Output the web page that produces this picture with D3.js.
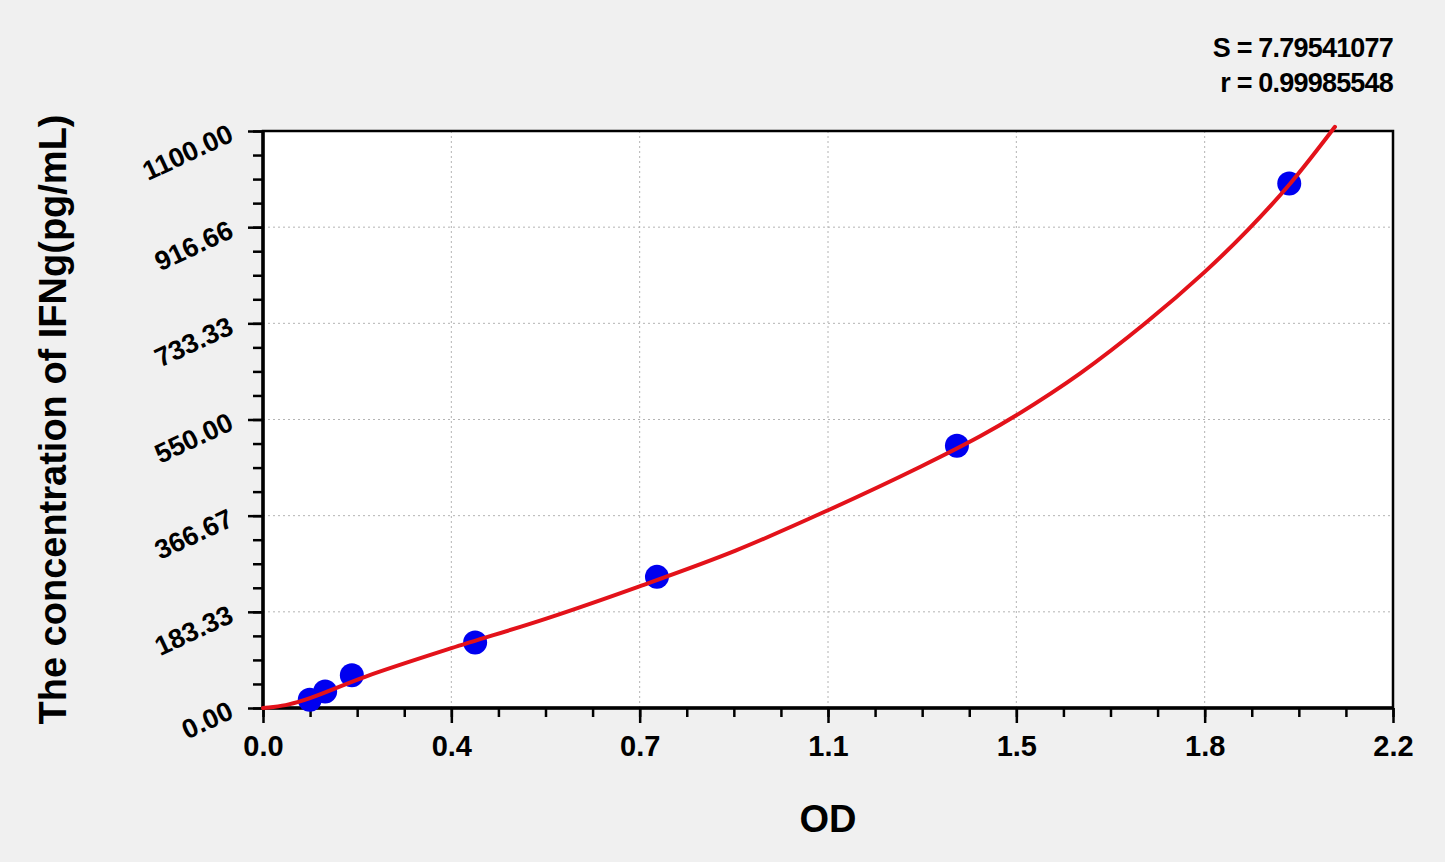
<!DOCTYPE html>
<html>
<head>
<meta charset="utf-8">
<script src="https://cdn.jsdelivr.net/npm/d3@7"></script>
<style>
  html, body { margin: 0; padding: 0; background: #f0f0f0; }
  svg { display: block; }
</style>
</head>
<body>
<svg id="chart" width="1445" height="862"></svg>
<script>
// standard points (OD vs concentration)
var od_values = [0.091, 0.121, 0.173, 0.413, 0.767, 1.351, 1.998];
var conc_values = [15.625, 31.25, 62.5, 125, 250, 500, 1000];

// fitted curve
var curve_od = [0.0, 0.02, 0.05, 0.0915, 0.2, 0.3667, 0.55, 0.733, 0.92, 1.1, 1.28, 1.396, 1.4667, 1.591, 1.717, 1.833, 1.918, 2.0, 2.087];
var curve_conc = [0, 2, 7, 19, 60, 114, 170, 232, 300, 377, 460, 518, 558, 638, 733, 831, 912, 1000, 1108];

var x_tick_labels = ['0.0', '0.4', '0.7', '1.1', '1.5', '1.8', '2.2'];
var y_tick_labels = ['0.00', '183.33', '366.67', '550.00', '733.33', '916.66', '1100.00'];

var stat_lines = ['S = 7.79541077', 'r = 0.99985548'];
var x_title = 'OD';
var y_title = 'The concentration of IFNg(pg/mL)';

var x_max = 2.2;
var y_max = 1100;

var font = '"Liberation Sans", Arial, Helvetica, sans-serif';
var plot = {left: 263, top: 131, right: 1393, bottom: 708};

var svg = d3.select('#chart');

var x = d3.scaleLinear().domain([0, x_max]).range([plot.left, plot.right]);
var y = d3.scaleLinear().domain([0, y_max]).range([plot.bottom, plot.top]);

var n_major = x_tick_labels.length - 1;
var x_major = x_tick_labels.map(function(d, i){ return i * x_max / n_major; });
var y_major = y_tick_labels.map(function(d, i){ return i * y_max / n_major; });
var x_minor = d3.range(0, n_major * 4 + 1).map(function(i){ return i * x_max / (n_major * 4); });
var y_minor = d3.range(0, n_major * 4 + 1).map(function(i){ return i * y_max / (n_major * 4); });

// plot background
svg.append('rect')
  .attr('x', plot.left)
  .attr('y', plot.top)
  .attr('width', plot.right - plot.left)
  .attr('height', plot.bottom - plot.top)
  .attr('fill', 'white');

// grid
var grid = svg.append('g').classed('grid', true)
  .attr('stroke', '#b4b4b4')
  .attr('stroke-width', 1)
  .attr('stroke-dasharray', '2,3');

grid.selectAll('.vgrid')
  .data(x_major.slice(1, -1))
  .enter()
  .append('line')
  .attr('x1', function(d){ return x(d); })
  .attr('x2', function(d){ return x(d); })
  .attr('y1', plot.top)
  .attr('y2', plot.bottom);

grid.selectAll('.hgrid')
  .data(y_major.slice(1, -1))
  .enter()
  .append('line')
  .attr('x1', plot.left)
  .attr('x2', plot.right)
  .attr('y1', function(d){ return y(d); })
  .attr('y2', function(d){ return y(d); });

// axes
function style_axis(g){
  g.select('.domain').remove();
  g.selectAll('.tick line').attr('stroke', 'black').attr('stroke-width', 2.5);
}

svg.append('g')
  .attr('transform', 'translate(0,' + plot.bottom + ')')
  .call(d3.axisBottom(x).tickValues(x_minor).tickSize(9).tickFormat(''))
  .call(style_axis);

var x_axis = svg.append('g')
  .attr('transform', 'translate(0,' + plot.bottom + ')')
  .call(d3.axisBottom(x).tickValues(x_major).tickSize(15)
    .tickFormat(function(d, i){ return x_tick_labels[i]; }))
  .call(style_axis);

x_axis.selectAll('.tick text')
  .attr('y', 48)
  .attr('dy', 0)
  .style('font-family', font)
  .style('font-weight', 'bold')
  .style('font-size', '29px')
  .attr('fill', 'black');

svg.append('g')
  .attr('transform', 'translate(' + plot.left + ',0)')
  .call(d3.axisLeft(y).tickValues(y_minor).tickSize(10).tickFormat(''))
  .call(style_axis);

var y_axis = svg.append('g')
  .attr('transform', 'translate(' + plot.left + ',0)')
  .call(d3.axisLeft(y).tickValues(y_major).tickSize(15).tickFormat(''))
  .call(style_axis);

y_axis.selectAll('.tick')
  .append('text')
  .text(function(d, i){ return y_tick_labels[i]; })
  .attr('text-anchor', 'end')
  .attr('transform', 'translate(-28, 9) rotate(-25)')
  .style('font-family', font)
  .style('font-weight', 'bold')
  .style('font-size', '27px')
  .attr('fill', 'black');

// frame
svg.append('rect')
  .attr('x', plot.left)
  .attr('y', plot.top)
  .attr('width', plot.right - plot.left)
  .attr('height', plot.bottom - plot.top)
  .attr('fill', 'none')
  .attr('stroke', 'black')
  .attr('stroke-width', 2.5);

svg.append('line')
  .attr('x1', plot.left).attr('x2', plot.left)
  .attr('y1', plot.top).attr('y2', plot.bottom)
  .attr('stroke', 'black').attr('stroke-width', 3.5);

svg.append('line')
  .attr('x1', plot.left).attr('x2', plot.right)
  .attr('y1', plot.bottom).attr('y2', plot.bottom)
  .attr('stroke', 'black').attr('stroke-width', 3.5);

// points
svg.append('g')
  .selectAll('circle')
  .data(od_values)
  .enter()
  .append('circle')
  .attr('cx', function(d){ return x(d); })
  .attr('cy', function(d, i){ return y(conc_values[i]); })
  .attr('r', 12)
  .attr('fill', '#0000f0');

// fitted curve
var curve_data = curve_od.map(function(d, i){ return [d, curve_conc[i]]; });
svg.append('path')
  .datum(curve_data)
  .attr('fill', 'none')
  .attr('stroke', '#e3121a')
  .attr('stroke-width', 4)
  .attr('stroke-linecap', 'round')
  .attr('d', d3.line()
    .x(function(d){ return x(d[0]); })
    .y(function(d){ return y(d[1]); })
    .curve(d3.curveCatmullRom.alpha(0.5)));

// titles
svg.append('text')
  .text(x_title)
  .attr('x', (plot.left + plot.right) / 2)
  .attr('y', 832)
  .attr('text-anchor', 'middle')
  .style('font-family', font)
  .style('font-weight', 'bold')
  .style('font-size', '38px');

svg.append('text')
  .text(y_title)
  .attr('transform', 'translate(66,' + ((plot.top + plot.bottom) / 2) + ') rotate(-90)')
  .attr('text-anchor', 'middle')
  .style('font-family', font)
  .style('font-weight', 'bold')
  .style('font-size', '38px');

svg.append('g')
  .selectAll('text')
  .data(stat_lines)
  .enter()
  .append('text')
  .text(function(d){ return d; })
  .attr('x', plot.right)
  .attr('y', function(d, i){ return 57 + i * 35; })
  .attr('text-anchor', 'end')
  .style('font-family', font)
  .style('font-weight', 'bold')
  .style('font-size', '27px')
  .style('letter-spacing', '-0.8px');
</script>
</body>
</html>
